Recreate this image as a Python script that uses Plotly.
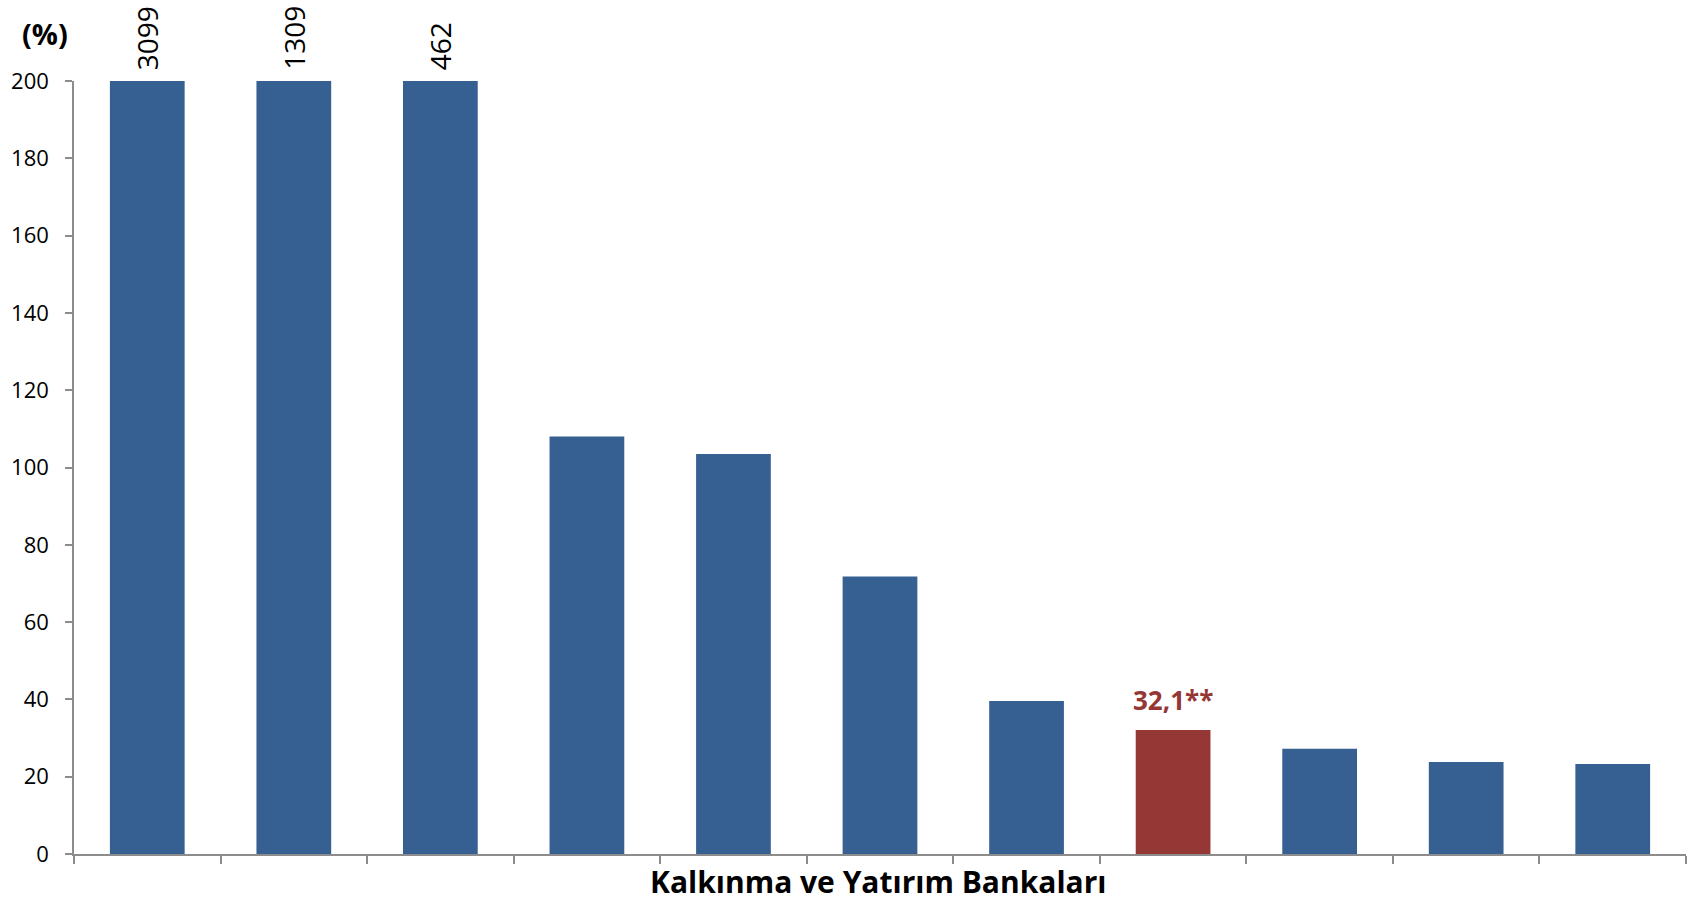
import plotly.graph_objects as go

categories = ["B1", "B2", "B3", "B4", "B5", "B6", "B7", "B8", "B9", "B10", "B11"]
actual_values = [3099, 1309, 462, 108.0, 103.5, 71.8, 39.6, 32.1, 27.2, 23.8, 23.3]
axis_cap = 200
shown_values = [min(v, axis_cap) for v in actual_values]
highlight_index = 7
highlight_label = "32,1**"
y_ticks = list(range(0, 201, 20))

BLUE = "#366092"
RED = "#953735"
AXIS = "#8c8c8c"
FONT = "Open Sans"

colors = [RED if i == highlight_index else BLUE for i in range(len(categories))]

fig = go.Figure(go.Bar(
    x=categories, y=shown_values, marker=dict(color=colors, line=dict(width=0)),
    width=0.51, hoverinfo="skip",
))

W, H = 1700, 903
ml, mr, mt, mb = 74, 14, 81, 49
pw, ph = W - ml - mr, H - mt - mb
def px_to_paper(px, py):
    return (px - ml) / pw, (H - mb - py) / ph

annotations = []
for c, v, s in zip(categories, actual_values, shown_values):
    if v > axis_cap:
        annotations.append(dict(
            x=c, y=s, xref="x", yref="y", text=str(v), textangle=-90,
            showarrow=False, xanchor="center", yanchor="bottom", yshift=9,
            font=dict(family=FONT, size=28, color="black"),
        ))
annotations.append(dict(
    x=categories[highlight_index], y=shown_values[highlight_index], xref="x", yref="y",
    text="<b>" + highlight_label + "</b>", showarrow=False, xanchor="center",
    yanchor="bottom", yshift=10, font=dict(family=FONT, size=26, color=RED),
))
ax, ay = px_to_paper(45, 33)
annotations.append(dict(
    x=ax, y=ay, xref="paper", yref="paper", text="<b>(%)</b>", showarrow=False,
    xanchor="center", yanchor="middle",
    font=dict(family=FONT, size=29, color="black"),
))
tx, ty = px_to_paper(878, 881)
annotations.append(dict(
    x=tx, y=ty, xref="paper", yref="paper", text="<b>Kalkınma ve Yatırım Bankaları</b>",
    showarrow=False, xanchor="center", yanchor="middle",
    font=dict(family=FONT, size=30, color="black"),
))

fig.update_layout(
    width=W, height=H, margin=dict(l=ml, r=mr, t=mt, b=mb),
    paper_bgcolor="white", plot_bgcolor="white", showlegend=False,
    bargap=0.49, annotations=annotations,
    font=dict(family=FONT, color="black"),
)
fig.update_xaxes(
    showticklabels=False, ticks="outside", tickson="boundaries", ticklen=8,
    tickcolor=AXIS, tickwidth=1.5, showline=True, linecolor=AXIS, linewidth=1.5,
    showgrid=False, zeroline=False,
)
fig.update_yaxes(
    range=[0, axis_cap], tickvals=y_ticks, ticks="outside", ticklen=7, tickcolor=AXIS,
    tickwidth=1.5, showline=True, linecolor=AXIS, linewidth=1.5, showgrid=False,
    zeroline=False, tickfont=dict(family=FONT, size=22, color="black"),
    ticklabelstandoff=12,
)

fig.write_html("out.html")
